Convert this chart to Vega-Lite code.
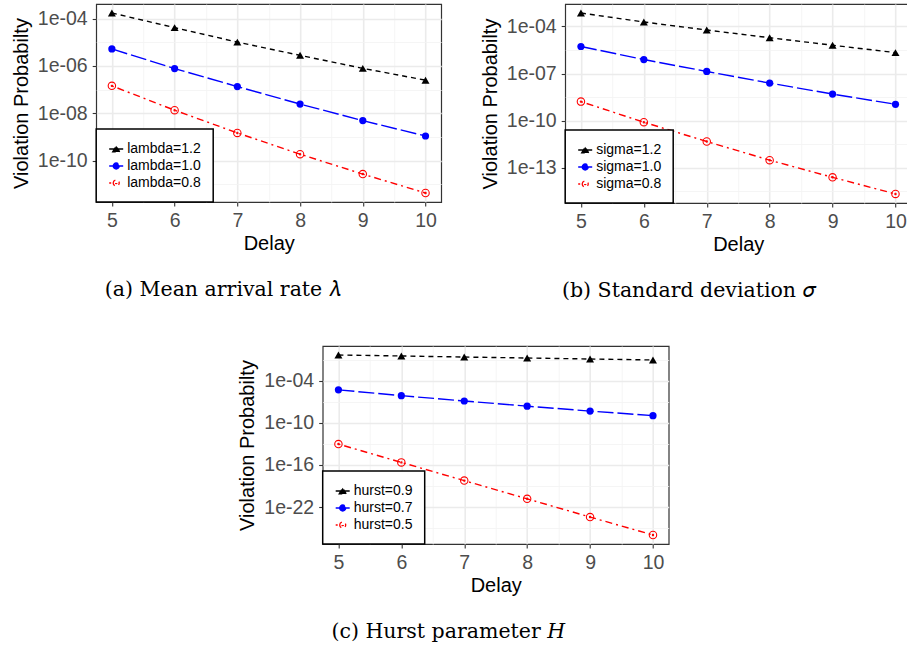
{
  "$schema": "https://vega.github.io/schema/vega-lite/v6.json",
  "padding": {"left": 10, "top": 3, "right": 0, "bottom": 0},
  "background": "white",
  "datasets": {
    "a": [
      {"d": 5, "p": 1.738e-4, "s": "lambda=1.2"},
      {"d": 6, "p": 4.169e-5, "s": "lambda=1.2"},
      {"d": 7, "p": 1.023e-5, "s": "lambda=1.2"},
      {"d": 8, "p": 2.818e-6, "s": "lambda=1.2"},
      {"d": 9, "p": 7.943e-7, "s": "lambda=1.2"},
      {"d": 10, "p": 2.512e-7, "s": "lambda=1.2"},
      {"d": 5, "p": 5.248e-6, "s": "lambda=1.0"},
      {"d": 6, "p": 7.762e-7, "s": "lambda=1.0"},
      {"d": 7, "p": 1.349e-7, "s": "lambda=1.0"},
      {"d": 8, "p": 2.455e-8, "s": "lambda=1.0"},
      {"d": 9, "p": 4.898e-9, "s": "lambda=1.0"},
      {"d": 10, "p": 1.096e-9, "s": "lambda=1.0"},
      {"d": 5, "p": 1.445e-7, "s": "lambda=0.8"},
      {"d": 6, "p": 1.349e-8, "s": "lambda=0.8"},
      {"d": 7, "p": 1.479e-9, "s": "lambda=0.8"},
      {"d": 8, "p": 1.862e-10, "s": "lambda=0.8"},
      {"d": 9, "p": 2.692e-11, "s": "lambda=0.8"},
      {"d": 10, "p": 4.266e-12, "s": "lambda=0.8"}
    ],
    "b": [
      {"d": 5, "p": 7.079e-4, "s": "sigma=1.2"},
      {"d": 6, "p": 1.905e-4, "s": "sigma=1.2"},
      {"d": 7, "p": 5.888e-5, "s": "sigma=1.2"},
      {"d": 8, "p": 1.905e-5, "s": "sigma=1.2"},
      {"d": 9, "p": 6.310e-6, "s": "sigma=1.2"},
      {"d": 10, "p": 2.138e-6, "s": "sigma=1.2"},
      {"d": 5, "p": 5.248e-6, "s": "sigma=1.0"},
      {"d": 6, "p": 7.762e-7, "s": "sigma=1.0"},
      {"d": 7, "p": 1.349e-7, "s": "sigma=1.0"},
      {"d": 8, "p": 2.455e-8, "s": "sigma=1.0"},
      {"d": 9, "p": 4.898e-9, "s": "sigma=1.0"},
      {"d": 10, "p": 1.096e-9, "s": "sigma=1.0"},
      {"d": 5, "p": 1.622e-9, "s": "sigma=0.8"},
      {"d": 6, "p": 7.943e-11, "s": "sigma=0.8"},
      {"d": 7, "p": 4.677e-12, "s": "sigma=0.8"},
      {"d": 8, "p": 3.020e-13, "s": "sigma=0.8"},
      {"d": 9, "p": 2.455e-14, "s": "sigma=0.8"},
      {"d": 10, "p": 2.138e-15, "s": "sigma=0.8"}
    ],
    "c": [
      {"d": 5, "p": 0.4898, "s": "hurst=0.9"},
      {"d": 6, "p": 0.3548, "s": "hurst=0.9"},
      {"d": 7, "p": 0.2512, "s": "hurst=0.9"},
      {"d": 8, "p": 0.1820, "s": "hurst=0.9"},
      {"d": 9, "p": 0.1318, "s": "hurst=0.9"},
      {"d": 10, "p": 0.0955, "s": "hurst=0.9"},
      {"d": 5, "p": 5.248e-6, "s": "hurst=0.7"},
      {"d": 6, "p": 7.762e-7, "s": "hurst=0.7"},
      {"d": 7, "p": 1.349e-7, "s": "hurst=0.7"},
      {"d": 8, "p": 2.455e-8, "s": "hurst=0.7"},
      {"d": 9, "p": 4.898e-9, "s": "hurst=0.7"},
      {"d": 10, "p": 1.096e-9, "s": "hurst=0.7"},
      {"d": 5, "p": 9.550e-14, "s": "hurst=0.5"},
      {"d": 6, "p": 2.344e-16, "s": "hurst=0.5"},
      {"d": 7, "p": 5.888e-19, "s": "hurst=0.5"},
      {"d": 8, "p": 1.479e-21, "s": "hurst=0.5"},
      {"d": 9, "p": 3.715e-24, "s": "hurst=0.5"},
      {"d": 10, "p": 1.023e-26, "s": "hurst=0.5"}
    ]
  },
  "vconcat": [
    {
      "hconcat": [
        {
          "width": 345, "height": 198,
          "data": {"name": "a"},
          "title": {"text": "(a) Mean arrival rate 𝜆", "orient": "bottom", "anchor": "middle", "frame": "bounds", "font": "DejaVu Serif", "fontSize": 20.5, "fontWeight": "normal", "color": "black", "offset": 26, "dx": -4},
          "encoding": {
            "x": {"field": "d", "type": "quantitative", "title": "Delay", "scale": {"domain": [4.75, 10.25], "nice": false, "zero": false},
              "axis": {"values": [5, 5.5, 6, 6.5, 7, 7.5, 8, 8.5, 9, 9.5, 10], "labelExpr": "datum.value % 1 == 0 ? format(datum.value, 'd') : ''",
                "gridColor": {"condition": {"test": "datum.value % 1 == 0", "value": "#EBEBEB"}, "value": "#F2F2F2"},
                "gridWidth": {"condition": {"test": "datum.value % 1 == 0", "value": 1.6}, "value": 0.8},
                "tickOpacity": {"condition": {"test": "datum.value % 1 == 0", "value": 1}, "value": 0}}},
            "y": {"field": "p", "type": "quantitative", "title": "Violation Probabilty", "scale": {"type": "log", "domain": [1.778e-12, 4.169e-4], "nice": false, "zero": false},
              "axis": {"values": [1e-4, 1e-5, 1e-6, 1e-7, 1e-8, 1e-9, 1e-10, 1e-11],
                "labelExpr": "abs(round(log(datum.value)/LN10)) % 2 == 0 ? '1e-' + (abs(round(log(datum.value)/LN10)) < 10 ? '0' : '') + abs(round(log(datum.value)/LN10)) : ''",
                "gridColor": {"condition": {"test": "abs(round(log(datum.value)/LN10)) % 2 == 0", "value": "#EBEBEB"}, "value": "#F2F2F2"},
                "gridWidth": {"condition": {"test": "abs(round(log(datum.value)/LN10)) % 2 == 0", "value": 1.6}, "value": 0.8},
                "tickOpacity": {"condition": {"test": "abs(round(log(datum.value)/LN10)) % 2 == 0", "value": 1}, "value": 0}}}
          },
          "layer": [
            {"mark": {"type": "line", "strokeWidth": 1.4},
             "encoding": {
               "color": {"field": "s", "type": "nominal", "scale": {"domain": ["lambda=1.2", "lambda=1.0", "lambda=0.8"], "range": ["#000000", "#0000FF", "#FF0000"]},
                 "legend": {"title": null, "orient": "bottom-left", "offset": 0,
                   "encode": {"legend": {"update": {"strokeWidth": {"value": 1.5}}},
                     "symbols": {"update": {
                       "shape": {"signal": "datum.index === 0 ? 'M-1,0H1M-0.5,0.42L0,-0.45L0.5,0.42Z' : datum.index === 1 ? 'M-1,0H1M0.43,0A0.43,0.43 0 1,1 -0.43,0A0.43,0.43 0 1,1 0.43,0Z' : 'M-1,0H-0.43M0.43,0A0.43,0.43 0 1,1 -0.43,0A0.43,0.43 0 1,1 0.43,0ZM0.1,0A0.1,0.1 0 1,1 -0.1,0A0.1,0.1 0 1,1 0.1,0Z'"},
                       "fill": {"signal": "datum.index === 0 ? '#000000' : datum.index === 1 ? '#0000FF' : 'transparent'"},
                       "stroke": {"signal": "datum.index === 0 ? '#000000' : datum.index === 1 ? '#0000FF' : '#FF0000'"},
                       "strokeDash": {"value": [1, 0]},
                       "opacity": {"value": 1}}}}}},
               "strokeDash": {"field": "s", "type": "nominal", "scale": {"domain": ["lambda=1.2", "lambda=1.0", "lambda=0.8"], "range": [[5, 4], [16, 4], [2, 4, 7, 4]]}, "legend": null}
             }},
            {"transform": [{"filter": "datum.s === 'lambda=1.2'"}], "mark": {"type": "point", "shape": "triangle-up", "filled": true, "color": "#000000", "opacity": 1, "size": 64}},
            {"transform": [{"filter": "datum.s === 'lambda=1.0'"}], "mark": {"type": "point", "shape": "circle", "filled": true, "color": "#0000FF", "opacity": 1, "size": 52}},
            {"transform": [{"filter": "datum.s === 'lambda=0.8'"}], "mark": {"type": "point", "shape": "M1,0A1,1 0 1,1 -1,0A1,1 0 1,1 1,0ZM0.18,0A0.18,0.18 0 1,1 -0.18,0A0.18,0.18 0 1,1 0.18,0Z", "filled": false, "color": "#FF0000", "strokeWidth": 1.1, "opacity": 1, "size": 55}}
          ]
        },
        {
          "width": 346, "height": 199,
          "data": {"name": "b"},
          "title": {"text": "(b) Standard deviation 𝜎", "orient": "bottom", "anchor": "middle", "frame": "bounds", "font": "DejaVu Serif", "fontSize": 20.5, "fontWeight": "normal", "color": "black", "offset": 26, "dx": -7},
          "encoding": {
            "x": {"field": "d", "type": "quantitative", "title": "Delay", "scale": {"domain": [4.75, 10.25], "nice": false, "zero": false},
              "axis": {"values": [5, 5.5, 6, 6.5, 7, 7.5, 8, 8.5, 9, 9.5, 10], "labelExpr": "datum.value % 1 == 0 ? format(datum.value, 'd') : ''",
                "gridColor": {"condition": {"test": "datum.value % 1 == 0", "value": "#EBEBEB"}, "value": "#F2F2F2"},
                "gridWidth": {"condition": {"test": "datum.value % 1 == 0", "value": 1.6}, "value": 0.8},
                "tickOpacity": {"condition": {"test": "datum.value % 1 == 0", "value": 1}, "value": 0}}},
            "y": {"field": "p", "type": "quantitative", "title": "Violation Probabilty", "scale": {"type": "log", "domain": [5.675e-16, 2.667e-3], "nice": false, "zero": false},
              "axis": {"values": [1e-4, 3.1623e-6, 1e-7, 3.1623e-9, 1e-10, 3.1623e-12, 1e-13, 3.1623e-15],
                "labelExpr": "abs(log(datum.value)/LN10 - round(log(datum.value)/LN10)) < 0.01 ? '1e-' + (abs(round(log(datum.value)/LN10)) < 10 ? '0' : '') + abs(round(log(datum.value)/LN10)) : ''",
                "gridColor": {"condition": {"test": "abs(log(datum.value)/LN10 - round(log(datum.value)/LN10)) < 0.01", "value": "#EBEBEB"}, "value": "#F2F2F2"},
                "gridWidth": {"condition": {"test": "abs(log(datum.value)/LN10 - round(log(datum.value)/LN10)) < 0.01", "value": 1.6}, "value": 0.8},
                "tickOpacity": {"condition": {"test": "abs(log(datum.value)/LN10 - round(log(datum.value)/LN10)) < 0.01", "value": 1}, "value": 0}}}
          },
          "layer": [
            {"mark": {"type": "line", "strokeWidth": 1.4},
             "encoding": {
               "color": {"field": "s", "type": "nominal", "scale": {"domain": ["sigma=1.2", "sigma=1.0", "sigma=0.8"], "range": ["#000000", "#0000FF", "#FF0000"]},
                 "legend": {"title": null, "orient": "bottom-left", "offset": 0,
                   "encode": {"legend": {"update": {"strokeWidth": {"value": 1.5}}},
                     "symbols": {"update": {
                       "shape": {"signal": "datum.index === 0 ? 'M-1,0H1M-0.5,0.42L0,-0.45L0.5,0.42Z' : datum.index === 1 ? 'M-1,0H1M0.43,0A0.43,0.43 0 1,1 -0.43,0A0.43,0.43 0 1,1 0.43,0Z' : 'M-1,0H-0.43M0.43,0A0.43,0.43 0 1,1 -0.43,0A0.43,0.43 0 1,1 0.43,0ZM0.1,0A0.1,0.1 0 1,1 -0.1,0A0.1,0.1 0 1,1 0.1,0Z'"},
                       "fill": {"signal": "datum.index === 0 ? '#000000' : datum.index === 1 ? '#0000FF' : 'transparent'"},
                       "stroke": {"signal": "datum.index === 0 ? '#000000' : datum.index === 1 ? '#0000FF' : '#FF0000'"},
                       "strokeDash": {"value": [1, 0]},
                       "opacity": {"value": 1}}}}}},
               "strokeDash": {"field": "s", "type": "nominal", "scale": {"domain": ["sigma=1.2", "sigma=1.0", "sigma=0.8"], "range": [[5, 4], [16, 4], [2, 4, 7, 4]]}, "legend": null}
             }},
            {"transform": [{"filter": "datum.s === 'sigma=1.2'"}], "mark": {"type": "point", "shape": "triangle-up", "filled": true, "color": "#000000", "opacity": 1, "size": 64}},
            {"transform": [{"filter": "datum.s === 'sigma=1.0'"}], "mark": {"type": "point", "shape": "circle", "filled": true, "color": "#0000FF", "opacity": 1, "size": 52}},
            {"transform": [{"filter": "datum.s === 'sigma=0.8'"}], "mark": {"type": "point", "shape": "M1,0A1,1 0 1,1 -1,0A1,1 0 1,1 1,0ZM0.18,0A0.18,0.18 0 1,1 -0.18,0A0.18,0.18 0 1,1 0.18,0Z", "filled": false, "color": "#FF0000", "strokeWidth": 1.1, "opacity": 1, "size": 55}}
          ]
        }
      ],
      "spacing": 37,
      "resolve": {"scale": {"color": "independent", "strokeDash": "independent"}, "legend": {"color": "independent"}}
    },
    {
      "width": 346, "height": 198,
      "data": {"name": "c"},
      "title": {"text": "(c) Hurst parameter 𝐻", "orient": "bottom", "anchor": "middle", "frame": "bounds", "font": "DejaVu Serif", "fontSize": 20.5, "fontWeight": "normal", "color": "black", "offset": 26, "dx": -13},
      "encoding": {
        "x": {"field": "d", "type": "quantitative", "title": "Delay", "scale": {"domain": [4.75, 10.25], "nice": false, "zero": false},
          "axis": {"values": [5, 5.5, 6, 6.5, 7, 7.5, 8, 8.5, 9, 9.5, 10], "labelExpr": "datum.value % 1 == 0 ? format(datum.value, 'd') : ''",
            "gridColor": {"condition": {"test": "datum.value % 1 == 0", "value": "#EBEBEB"}, "value": "#F2F2F2"},
            "gridWidth": {"condition": {"test": "datum.value % 1 == 0", "value": 1.6}, "value": 0.8},
            "tickOpacity": {"condition": {"test": "datum.value % 1 == 0", "value": 1}, "value": 0}}},
        "y": {"field": "p", "type": "quantitative", "title": "Violation Probabilty", "scale": {"type": "log", "domain": [5.321e-28, 9.419], "nice": false, "zero": false},
          "axis": {"orient": "left", "values": [1e-1, 1e-4, 1e-7, 1e-10, 1e-13, 1e-16, 1e-19, 1e-22, 1e-25],
            "labelExpr": "abs(round(log(datum.value)/LN10)) % 6 == 4 ? '1e-' + (abs(round(log(datum.value)/LN10)) < 10 ? '0' : '') + abs(round(log(datum.value)/LN10)) : ''",
            "gridColor": {"condition": {"test": "abs(round(log(datum.value)/LN10)) % 6 == 4", "value": "#EBEBEB"}, "value": "#F2F2F2"},
            "gridWidth": {"condition": {"test": "abs(round(log(datum.value)/LN10)) % 6 == 4", "value": 1.6}, "value": 0.8},
            "tickOpacity": {"condition": {"test": "abs(round(log(datum.value)/LN10)) % 6 == 4", "value": 1}, "value": 0}}}
      },
      "layer": [
        {
          "layer": [
            {"mark": {"type": "line", "strokeWidth": 1.4},
             "encoding": {
               "color": {"field": "s", "type": "nominal", "scale": {"domain": ["hurst=0.9", "hurst=0.7", "hurst=0.5"], "range": ["#000000", "#0000FF", "#FF0000"]},
                 "legend": {"title": null, "orient": "bottom-left", "offset": 0,
                   "encode": {"legend": {"update": {"strokeWidth": {"value": 1.5}}},
                     "symbols": {"update": {
                       "shape": {"signal": "datum.index === 0 ? 'M-1,0H1M-0.5,0.42L0,-0.45L0.5,0.42Z' : datum.index === 1 ? 'M-1,0H1M0.43,0A0.43,0.43 0 1,1 -0.43,0A0.43,0.43 0 1,1 0.43,0Z' : 'M-1,0H-0.43M0.43,0A0.43,0.43 0 1,1 -0.43,0A0.43,0.43 0 1,1 0.43,0ZM0.1,0A0.1,0.1 0 1,1 -0.1,0A0.1,0.1 0 1,1 0.1,0Z'"},
                       "fill": {"signal": "datum.index === 0 ? '#000000' : datum.index === 1 ? '#0000FF' : 'transparent'"},
                       "stroke": {"signal": "datum.index === 0 ? '#000000' : datum.index === 1 ? '#0000FF' : '#FF0000'"},
                       "strokeDash": {"value": [1, 0]},
                       "opacity": {"value": 1}}}}}},
               "strokeDash": {"field": "s", "type": "nominal", "scale": {"domain": ["hurst=0.9", "hurst=0.7", "hurst=0.5"], "range": [[5, 4], [16, 4], [2, 4, 7, 4]]}, "legend": null}
             }},
            {"transform": [{"filter": "datum.s === 'hurst=0.9'"}], "mark": {"type": "point", "shape": "triangle-up", "filled": true, "color": "#000000", "opacity": 1, "size": 64}},
            {"transform": [{"filter": "datum.s === 'hurst=0.7'"}], "mark": {"type": "point", "shape": "circle", "filled": true, "color": "#0000FF", "opacity": 1, "size": 52}}
          ]
        },
        {"transform": [{"filter": "datum.s === 'hurst=0.5'"}], "mark": {"type": "point", "shape": "M1,0A1,1 0 1,1 -1,0A1,1 0 1,1 1,0ZM0.18,0A0.18,0.18 0 1,1 -0.18,0A0.18,0.18 0 1,1 0.18,0Z", "filled": false, "color": "#FF0000", "strokeWidth": 1.1, "opacity": 1, "size": 55},
         "encoding": {"y": {"field": "p", "type": "quantitative", "scale": {"type": "log", "domain": [5.321e-28, 9.419], "nice": false, "zero": false},
           "axis": {"orient": "right", "labels": false, "ticks": false, "grid": false, "domain": false, "title": "x", "titleOpacity": 0, "titleFontSize": 14, "titlePadding": 2}}}}
      ],
      "resolve": {"axis": {"y": "independent"}}
    }
  ],
  "spacing": 43,
  "center": true,
  "resolve": {"scale": {"color": "independent", "strokeDash": "independent"}, "legend": {"color": "independent"}},
  "config": {
    "font": "Liberation Sans",
    "view": {"stroke": "#333333", "strokeWidth": 1.2},
    "axis": {"domain": false, "tickColor": "#333333", "tickWidth": 1.1, "tickSize": 4, "labelFont": "Liberation Sans", "labelFontSize": 19.5, "labelColor": "#4D4D4D", "labelPadding": 5, "titleFont": "Liberation Sans", "titleFontSize": 20, "titleFontWeight": "normal", "titleColor": "#000000", "labelOverlap": false, "labelFlush": false},
    "axisY": {"titlePadding": 6},
    "axisX": {"titlePadding": 4},
    "legend": {"strokeColor": "#000000", "fillColor": "#FFFFFF", "padding": 12, "rowPadding": 2, "labelFont": "Liberation Sans", "labelFontSize": 14, "labelColor": "#000000", "symbolSize": 196, "symbolStrokeWidth": 1.3, "labelOffset": 3}
  }
}
